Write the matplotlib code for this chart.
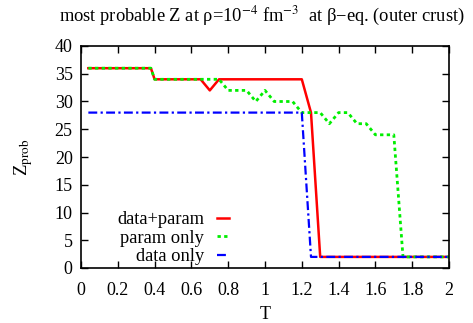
import matplotlib
matplotlib.use("Agg")
import matplotlib.pyplot as plt

plt.rcParams['font.family'] = ['Liberation Serif', 'DejaVu Serif']
plt.rcParams['mathtext.fontset'] = 'stix'

# data+param
T_dp = [0.04, 0.38, 0.40, 0.65, 0.70, 0.75, 1.20, 1.25, 1.30, 2.00]
Z_dp = [36, 36, 34, 34, 32, 34, 34, 28, 2, 2]
# param only
T_p = [0.04, 0.38, 0.40, 0.75, 0.80, 0.90, 0.95, 1.00, 1.05, 1.15, 1.20,
       1.30, 1.35, 1.40, 1.45, 1.50, 1.55, 1.60, 1.70, 1.75, 2.00]
Z_p = [36, 36, 34, 34, 32, 32, 30, 32, 30, 30, 28,
       28, 26, 28, 28, 26, 26, 24, 24, 2, 2]
# data only
T_d = [0.04, 1.20, 1.25, 2.00]
Z_d = [28, 28, 2, 2]

xticks = [0, 0.2, 0.4, 0.6, 0.8, 1, 1.2, 1.4, 1.6, 1.8, 2]
xticklabels = ['0', '0.2', '0.4', '0.6', '0.8', '1', '1.2', '1.4', '1.6', '1.8', '2']
yticks = [0, 5, 10, 15, 20, 25, 30, 35, 40]

fig = plt.figure(figsize=(4.73, 3.23), dpi=100)
ax = fig.add_axes([81/473, 1-268/323, (449-81)/473, (268-46)/323])

ax.plot(T_dp, Z_dp, color='#ff0000', lw=1.8, label='data+param')
ax.plot(T_p, Z_p, color='#00ee00', lw=2.0, linestyle=(0, (1.2, 1.2)), label='param only')
ax.plot(T_d, Z_d, color='#0000ff', lw=1.6, linestyle=(0, (4, 1.5, 1, 1.5)), label='data only')

ax.set_xlim(0, 2)
ax.set_ylim(0, 40)
ax.set_xticks(xticks)
ax.set_xticklabels(xticklabels)
ax.set_yticks(yticks)
ax.tick_params(direction='in', top=True, right=True, length=5, width=1, labelsize=13)
ax.tick_params(axis='x', pad=10)
ax.tick_params(axis='y', pad=6)
for s in ax.spines.values():
    s.set_linewidth(1.2)

ax.set_xlabel('T', fontsize=13, labelpad=5)
ax.set_ylabel(r'Z$_{\rm prob}$', fontsize=13.5, labelpad=14)
fig.text(262/473, 1-16/323, r'most probable Z at ρ=10$^{-4}$ fm$^{-3}$  at β−eq. (outer crust)',
         ha='center', va='center', fontsize=13.3)

leg = ax.legend(loc='lower right', bbox_to_anchor=((229-81)/368, 0.012), markerfirst=False, frameon=False,
                fontsize=13.3, handlelength=0.65, handletextpad=0.7, labelspacing=0.08,
                borderpad=0.0, borderaxespad=0.0)

fig.savefig('out.png', dpi=100)
